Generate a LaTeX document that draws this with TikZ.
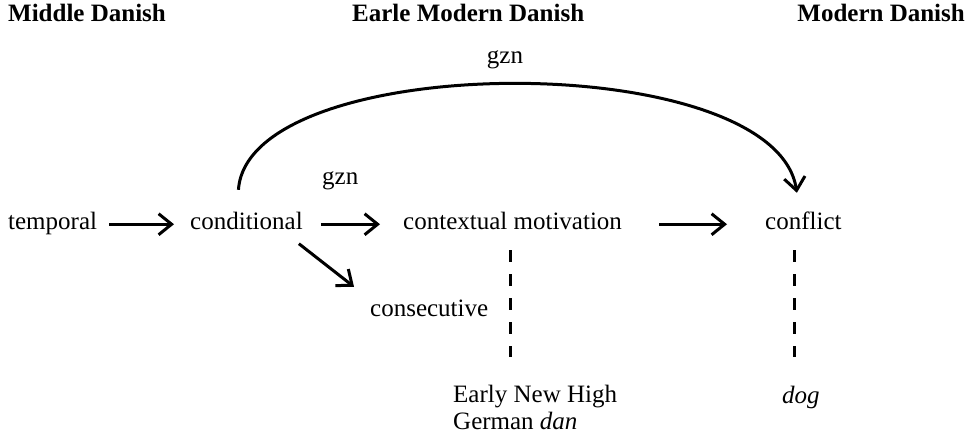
\documentclass[tikz,border=0pt]{standalone}
\usepackage{fontspec}
\setmainfont{Liberation Serif}
\usetikzlibrary{arrows.meta}
\begin{document}
\begin{tikzpicture}[x=1pt,y=-1pt,
  txt/.style={inner sep=0pt,text height=17pt,text depth=5.5pt,font=\fontsize{25}{28}\selectfont},
  head/.style={inner sep=0pt,font=\fontsize{25}{28}\selectfont\bfseries},
  arr/.style={line width=3pt,-{Straight Barb[length=13pt,width=21pt,line width=3pt]}},
  dashline/.style={line width=3pt,dash pattern=on 12pt off 12pt}]
\useasboundingbox (0,0) rectangle (970,435);
% headings
\node[head,anchor=base west] (h1) at (8,22) {Middle Danish};
\node[head,anchor=base west] (h2) at (352,22) {Earle Modern Danish};
\node[head,anchor=base east] (h3) at (965,22) {Modern Danish};
% main row
\node[txt,anchor=base west] (temp) at (8,230) {temporal};
\node[txt,anchor=base west] (cond) at (190,230) {conditional};
\node[txt,anchor=base west] (ctx) at (403,230) {contextual motivation};
\node[txt,anchor=base west] (conf) at (765,230) {conflict};
\node[txt,anchor=base west] (cons) at (370,317) {consecutive};
\node[txt,anchor=base] (g1) at (505,64) {gzn};
\node[txt,anchor=base west] (g2) at (322,185) {gzn};
\node[inner sep=0pt,font=\fontsize{25}{27}\selectfont,anchor=base west,align=left] (enhg) at (453,430) {Early New High\\German \textit{dan}};
\node[txt,anchor=base west] (dog) at (782,404) {\textit{dog}};
% connectors
\draw[arr,shorten <=12pt,shorten >=16pt] (temp.east) -- (cond.west);
\draw[arr,shorten <=18pt,shorten >=23pt] (cond.east) -- (ctx.west);
\draw[arr,shorten <=37pt,shorten >=38pt] (ctx.east) -- (conf.west);
\draw[arr] ([shift={(-4pt,-8pt)}]cond.south east) -- ([shift={(-16pt,13pt)}]cons.north west);
\draw[arr] ([shift={(-8pt,23pt)}]cond.north) .. controls (248,49) and (775,47) .. ([shift={(-6.5pt,20pt)}]conf.north);
\draw[dashline] ([shift={(-2.5pt,-14.5pt)}]ctx.south) -- ([yshift=28pt,xshift=-2.5pt]ctx.south |- enhg.north);
\draw[dashline] ([shift={(-8.5pt,-14.5pt)}]conf.south) -- ([yshift=28pt,xshift=-8.5pt]conf.south |- enhg.north);
\end{tikzpicture}
\end{document}
